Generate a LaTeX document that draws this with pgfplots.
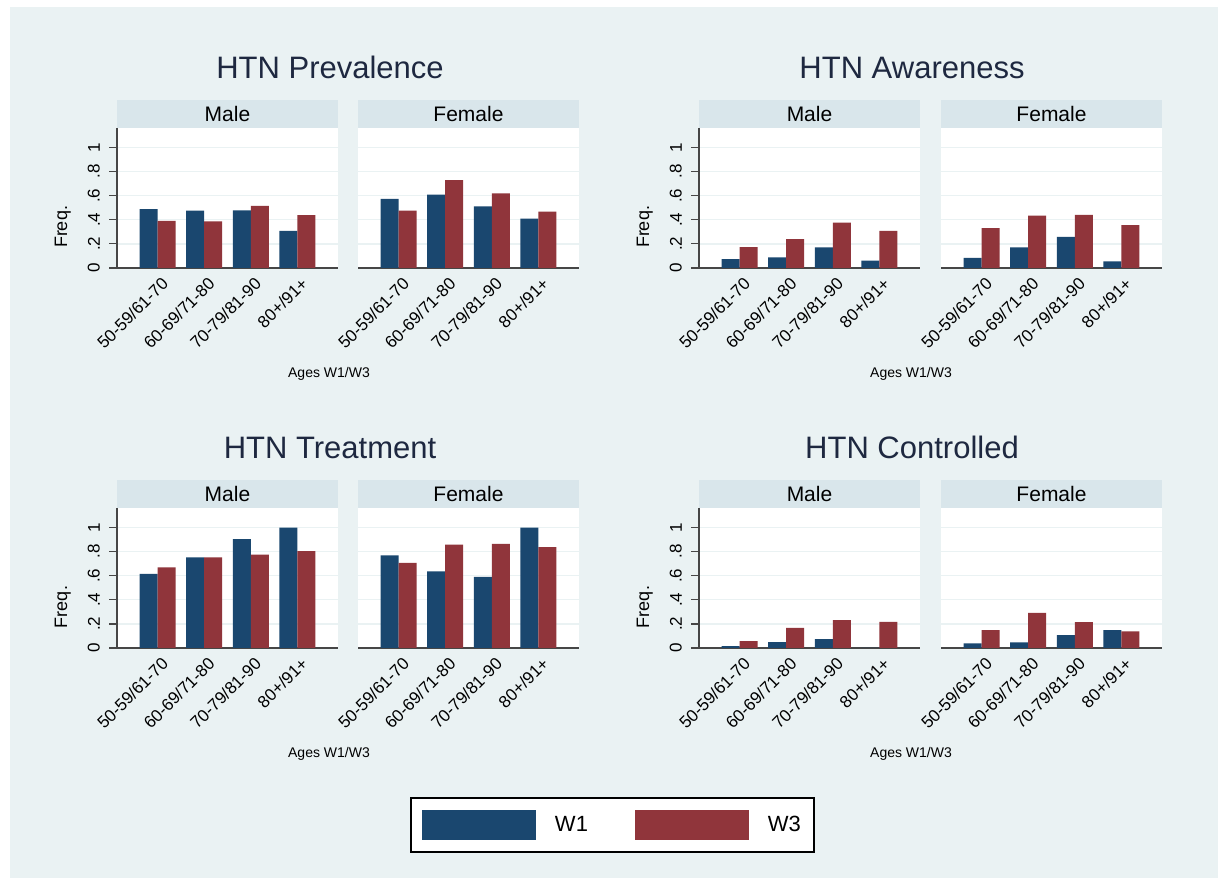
\documentclass[border=0pt]{standalone}
\usepackage{fontspec}
\setmainfont{Liberation Sans}
\usepackage{pgfplots}
\usepackage{pgfplotstable}
\pgfplotsset{compat=1.18}
\definecolor{bg}{RGB}{234,242,243}
\definecolor{strip}{RGB}{217,230,235}
\definecolor{gridc}{RGB}{234,242,243}
\definecolor{axc}{RGB}{70,70,70}
\definecolor{wone}{RGB}{26,71,111}
\definecolor{wthree}{RGB}{144,53,59}
\definecolor{titc}{RGB}{30,40,64}

% columns: group, male W1, male W3, female W1, female W3
\pgfplotstableread{
x m1 m3 f1 f3
1 0.488 0.391 0.573 0.477
2 0.477 0.386 0.609 0.730
3 0.479 0.515 0.512 0.620
4 0.309 0.438 0.410 0.468
}\prevalence
\pgfplotstableread{
x m1 m3 f1 f3
1 0.074 0.174 0.085 0.331
2 0.088 0.240 0.171 0.435
3 0.171 0.377 0.259 0.441
4 0.061 0.309 0.055 0.355
}\awareness
\pgfplotstableread{
x m1 m3 f1 f3
1 0.615 0.670 0.769 0.706
2 0.753 0.753 0.637 0.857
3 0.904 0.775 0.591 0.865
4 1.000 0.805 1.000 0.838
}\treatment
\pgfplotstableread{
x m1 m3 f1 f3
1 0.016 0.058 0.038 0.148
2 0.049 0.168 0.047 0.291
3 0.074 0.231 0.107 0.214
4 0.000 0.217 0.148 0.137
}\controlled

\pgfplotsset{
  panel/.style={
    scale only axis, width=221pt, height=140pt,
    anchor=south west,
    xmin=0.126, xmax=4.874, ymin=0, ymax=1.162,
    ybar=0pt, bar width=18pt,
    axis lines*=left,
    axis line style={axc, line width=1.2pt},
    axis background/.style={fill=white},
    xtick={1,2,3,4},
    xticklabels={50-59/61-70,60-69/71-80,70-79/81-90,80+/91+},
    xtick style={draw=none},
    xticklabel style={rotate=45, anchor=north east, font=\fontsize{17}{17}\selectfont,
      inner sep=0pt, yshift=-2pt, xshift=2pt},
    ytick={0,0.2,0.4,0.6,0.8,1},
    yticklabels={0,.2,.4,.6,.8,1},
    yticklabel style={rotate=90, anchor=south, font=\fontsize{17}{17}\selectfont,
      inner sep=0pt, inner ysep=9pt},
    ymajorgrids, grid style={gridc, line width=1.3pt},
    tick align=outside, major tick length=8pt,
    ytick style={axc, line width=1.2pt},
    every axis title shift=0pt,
    title style={at={(0.5,1)}, anchor=south, yshift=0pt, fill=strip,
      minimum width=221pt, minimum height=28pt, inner sep=0pt,
      font=\fontsize{21}{21}\selectfont},
    /pgf/number format/assume math mode=true,
  },
  female/.style={y axis line style={draw=none}, yticklabel={\relax}, ytick style={draw=none}},
  b1/.style={fill=wone, draw=none},
  b3/.style={fill=wthree, draw=none},
}

\begin{document}
\begin{tikzpicture}
\useasboundingbox (0pt,0pt) rectangle (1218pt,878pt);
\fill[white] (0pt,0pt) rectangle (1218pt,878pt);
\fill[bg] (10pt,0pt) rectangle (1218pt,871pt);

% ---------- HTN Prevalence ----------
\begin{axis}[panel, at={(117pt,610pt)}, title={Male}]
\addplot[b1] table[x=x,y=m1]{\prevalence};
\addplot[b3] table[x=x,y=m3]{\prevalence};
\end{axis}
\begin{axis}[panel, female, at={(358pt,610pt)}, title={Female}]
\addplot[b1] table[x=x,y=f1]{\prevalence};
\addplot[b3] table[x=x,y=f3]{\prevalence};
\end{axis}

% ---------- HTN Awareness ----------
\begin{axis}[panel, at={(699pt,610pt)}, title={Male}]
\addplot[b1] table[x=x,y=m1]{\awareness};
\addplot[b3] table[x=x,y=m3]{\awareness};
\end{axis}
\begin{axis}[panel, female, at={(941pt,610pt)}, title={Female}]
\addplot[b1] table[x=x,y=f1]{\awareness};
\addplot[b3] table[x=x,y=f3]{\awareness};
\end{axis}

% ---------- HTN Treatment ----------
\begin{axis}[panel, at={(117pt,230pt)}, title={Male},
  legend columns=2,
  legend image code/.code={\fill[#1] (0pt,-15pt) rectangle (114pt,15pt);},
  legend style={at={(2.242,-1.264)}, anchor=center, draw=black, line width=1.3pt,
    fill=white, inner xsep=11pt, inner ysep=12pt,
    font=\fontsize{22}{22}\selectfont,
    /tikz/every odd column/.append style={column sep=17pt},
    /tikz/every even column/.append style={column sep=45pt}},
  legend cell align=left]
\addplot[b1] table[x=x,y=m1]{\treatment};
\addplot[b3] table[x=x,y=m3]{\treatment};
\legend{W1,W3\hspace{7pt}}
\end{axis}
\begin{axis}[panel, female, at={(358pt,230pt)}, title={Female}]
\addplot[b1] table[x=x,y=f1]{\treatment};
\addplot[b3] table[x=x,y=f3]{\treatment};
\end{axis}

% ---------- HTN Controlled ----------
\begin{axis}[panel, at={(699pt,230pt)}, title={Male}]
\addplot[b1] table[x=x,y=m1]{\controlled};
\addplot[b3] table[x=x,y=m3]{\controlled};
\end{axis}
\begin{axis}[panel, female, at={(941pt,230pt)}, title={Female}]
\addplot[b1] table[x=x,y=f1]{\controlled};
\addplot[b3] table[x=x,y=f3]{\controlled};
\end{axis}

% ---------- panel titles and axis titles ----------
\foreach \px/\py/\t in {330/799/HTN Prevalence, 912/799/HTN Awareness,
                        330/419/HTN Treatment, 912/419/HTN Controlled}{
  \node[anchor=base, text=titc, font=\fontsize{31}{31}\selectfont, inner sep=0pt] at (\px pt,\py pt) {\t};
}
\foreach \px/\py in {329/504, 911/504, 329/124, 911/124}{
  \node[font=\fontsize{14}{14}\selectfont, inner sep=0pt] at (\px pt,\py pt) {Ages W1/W3};
}
\foreach \px/\py in {62.7/651, 644.7/651, 62.7/271, 644.7/271}{
  \node[rotate=90, font=\fontsize{18}{18}\selectfont, inner sep=0pt] at (\px pt,\py pt) {Freq.};
}
\end{tikzpicture}
\end{document}
